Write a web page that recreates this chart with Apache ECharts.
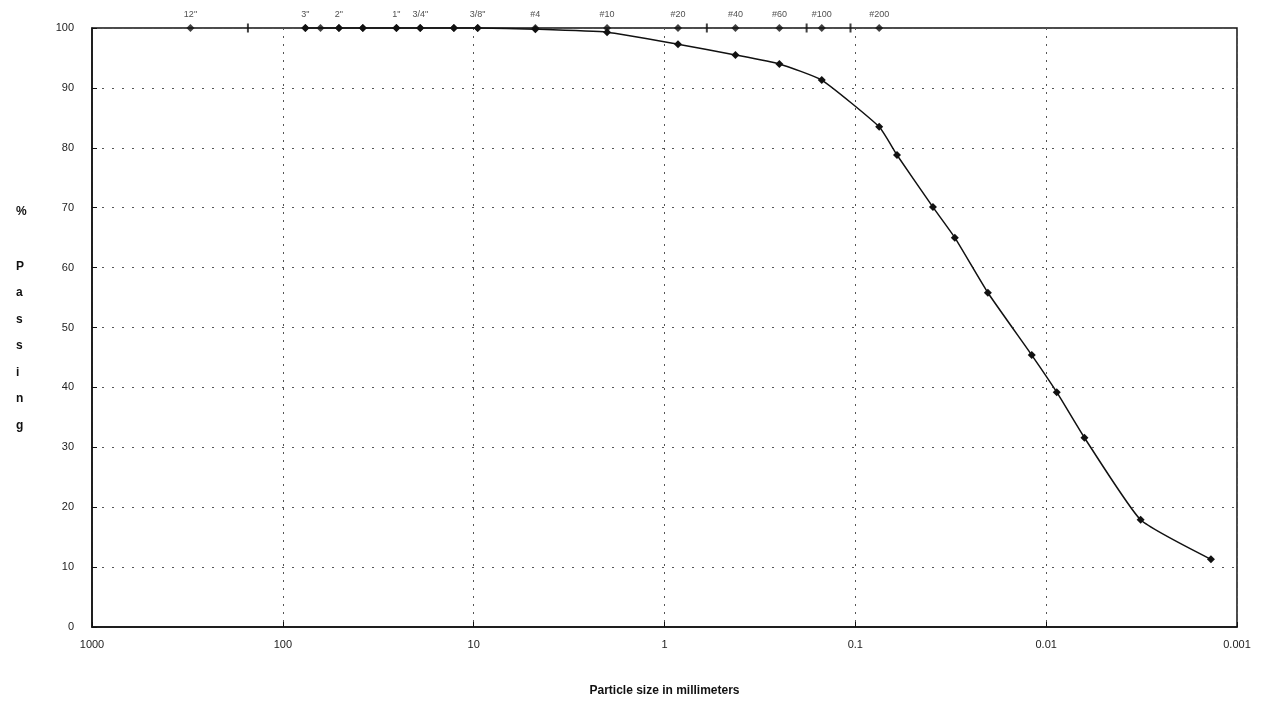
<!DOCTYPE html>
<html>
<head>
<meta charset="utf-8">
<script src="https://cdn.jsdelivr.net/npm/echarts@6/dist/echarts.min.js"></script>
<style>html,body{margin:0;padding:0;background:#fff;}#c{width:1261px;height:702px;}</style>
</head>
<body>
<div id="c"></div>
<script>
// Gradation data: particle size (mm) and percent passing
var particleSizes = [76.2, 50.8, 38.1, 25.4, 19.05, 12.7, 9.525, 4.75, 2.0, 0.85, 0.425, 0.25, 0.15, 0.075, 0.0605, 0.0392, 0.0301, 0.0202, 0.0119, 0.0088, 0.0063, 0.0032, 0.00137];
var percentPassing = [100, 100, 100, 100, 100, 100, 100, 99.8, 99.3, 97.3, 95.5, 94, 91.3, 83.5, 78.8, 70.1, 65, 55.8, 45.4, 39.2, 31.6, 17.9, 11.3];

// Sieve marks along the top
var sieveSizes = [304.8, 152.4, 76.2, 63.5, 50.8, 38.1, 25.4, 19.05, 12.7, 9.525, 4.75, 2.0, 0.85, 0.6, 0.425, 0.25, 0.18, 0.15, 0.106, 0.075];
var sieveLabels = ['12"', '', '3"', '', '2"', '', '1"', '3/4"', '', '3/8"', '#4', '#10', '#20', '', '#40', '#60', '', '#100', '', '#200'];
var sieveTickOnly = [false, true, false, false, false, false, false, false, false, false, false, false, false, true, false, false, true, false, true, false];

// Axis ticks
var xTickLabels = ['1000', '100', '10', '1', '0.1', '0.01', '0.001'];
var yMin = 0, yMax = 100, yStep = 10;
var yTitleChars = ['%', 'P', 'a', 's', 's', 'i', 'n', 'g'];

var chart = echarts.init(document.getElementById('c'));

var curveData = particleSizes.map(function (s, i) { return [s, percentPassing[i]]; });
var sieveData = sieveSizes.map(function (s, i) {
  return {
    value: [s, 100],
    name: sieveLabels[i],
    symbol: sieveTickOnly[i] ? 'rect' : 'diamond',
    symbolSize: sieveTickOnly[i] ? [2, 9] : 8
  };
});

function fmt(v) {
  var s = String(Number(Number(v).toPrecision(3)));
  var idx = xTickLabels.indexOf(s);
  return idx >= 0 ? xTickLabels[idx] : s;
}

var graphics = yTitleChars.map(function (ch, i) {
  return {
    type: 'text',
    left: 16,
    top: (i === 0 ? 206 : 234 + i * 26.5),
    style: { text: ch, font: 'bold 12px "Liberation Sans", Arial, sans-serif', fill: '#111' }
  };
});

chart.setOption({
  animation: false,
  backgroundColor: '#fff',
  grid: { left: 92, right: 24, top: 28, bottom: 75, show: true, borderColor: '#111', borderWidth: 1.5 },
  graphic: graphics,
  xAxis: {
    type: 'log',
    logBase: 10,
    min: 0.001,
    max: 1000,
    inverse: true,
    name: 'Particle size in millimeters',
    nameLocation: 'middle',
    nameGap: 58,
    nameTextStyle: { fontFamily: '"Liberation Sans", Arial, sans-serif', fontWeight: 'bold', fontSize: 12, color: '#111' },
    axisLine: { show: true, lineStyle: { color: '#111', width: 1.5 } },
    axisTick: { show: true, inside: true, length: 5, lineStyle: { color: '#111' } },
    axisLabel: { formatter: fmt, fontFamily: '"Liberation Sans", Arial, sans-serif', fontSize: 11, color: '#222', margin: 12 },
    splitLine: { show: true, lineStyle: { color: '#555', type: [2, 6], width: 1 } }
  },
  yAxis: {
    type: 'value',
    min: yMin,
    max: yMax,
    interval: yStep,
    axisLine: { show: true, lineStyle: { color: '#111', width: 1.5 } },
    axisTick: { show: true, inside: true, length: 5, lineStyle: { color: '#111' } },
    axisLabel: { fontFamily: '"Liberation Sans", Arial, sans-serif', fontSize: 11, color: '#222', margin: 18 },
    splitLine: { show: true, lineStyle: { color: '#555', type: [2, 8], width: 1 } }
  },
  series: [
    {
      type: 'line',
      data: curveData,
      symbol: 'diamond',
      symbolSize: 8,
      showSymbol: true,
      smooth: 0.15,
      clip: false,
      lineStyle: { color: '#111', width: 1.5 },
      itemStyle: { color: '#111' },
      z: 5
    },
    {
      type: 'scatter',
      data: sieveData,
      clip: false,
      itemStyle: { color: '#111' },
      label: {
        show: true,
        position: 'top',
        distance: 5,
        formatter: function (p) { return p.name; },
        fontFamily: '"Liberation Sans", Arial, sans-serif',
        fontSize: 9,
        color: '#222'
      },
      z: 6
    }
  ]
});
</script>
</body>
</html>
